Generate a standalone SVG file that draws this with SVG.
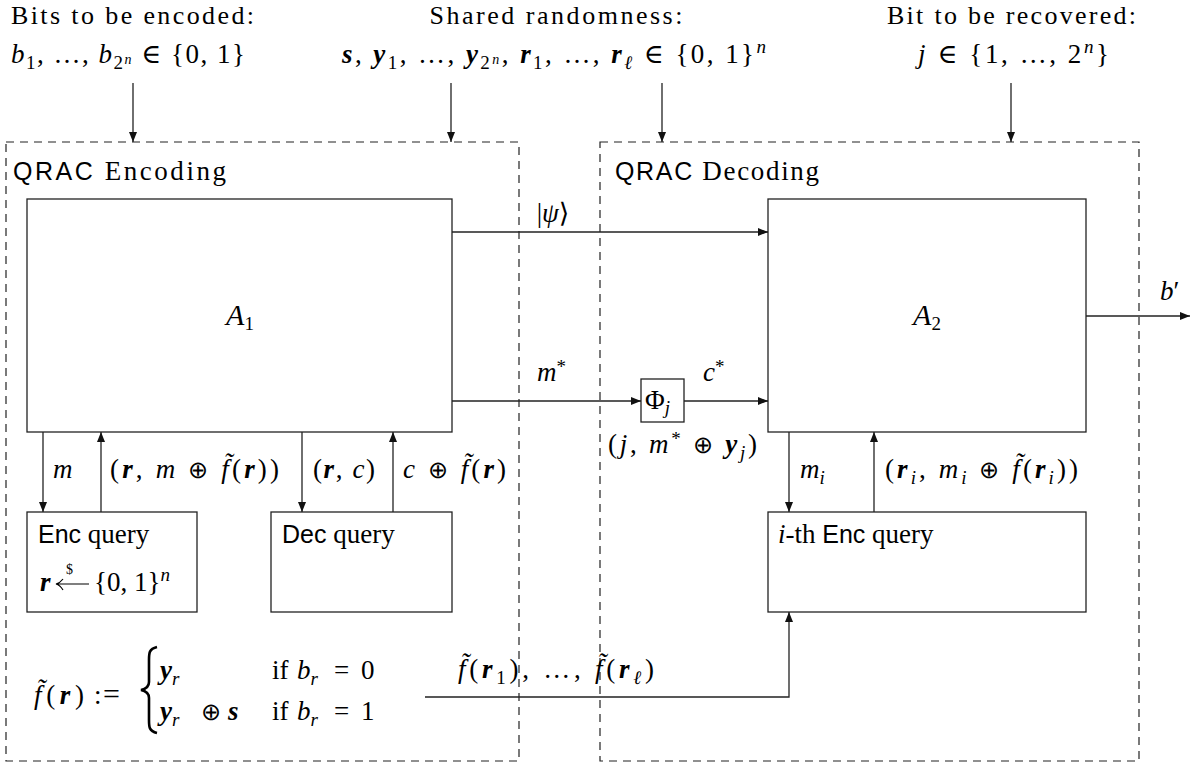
<svg xmlns="http://www.w3.org/2000/svg" width="1198" height="765" viewBox="0 0 1198 765">
<style>
text { font-family: "Liberation Serif", "DejaVu Serif", serif; font-size: 27px; fill: #000; }
.i { font-style: italic; }
.b { font-weight: bold; font-style: italic; }
.sf { font-family: "Liberation Sans", "DejaVu Sans", sans-serif; font-size: 25px; }
.s { font-size: 19px; }
.ss { font-size: 14px; }
.cal { font-size: 30px; font-style: italic; }
.top { font-size: 26px; }
.op { font-family: "DejaVu Sans", sans-serif; font-weight: 200; font-size: 24px; }
.box { fill: #fff; stroke: #222; stroke-width: 1.3; }
.frame { fill: none; stroke: #222; stroke-width: 1.2; stroke-dasharray: 8 6; }
.c { fill: none; stroke: #222; stroke-width: 1.3; marker-end: url(#ah); }
.cn { fill: none; stroke: #000; stroke-width: 1.2; }
</style>
<defs>
<marker id="ah" viewBox="0 0 10 8" refX="10" refY="4" markerWidth="10" markerHeight="8" markerUnits="userSpaceOnUse" orient="auto"><path d="M0,0 L10,4 L0,8 z" fill="#111"/></marker>
</defs>
<rect width="1198" height="765" fill="#fff"/>

<g id="input-bits">
<text class="top" x="11" y="24" textLength="243">Bits to be encoded:</text>
<text x="11" y="63" textLength="234"><tspan class="i">b</tspan><tspan class="s" dy="6">1</tspan><tspan dy="-6">, …, </tspan><tspan class="i">b</tspan><tspan class="s" dy="6">2</tspan><tspan class="ss i" dy="-5">n</tspan><tspan dy="-1"> ∈ {0, 1}</tspan></text>
</g>
<g id="input-randomness">
<text class="top" x="556" y="24" text-anchor="middle" textLength="253">Shared randomness:</text>
<text x="342" y="63" textLength="424"><tspan class="b">s</tspan>, <tspan class="b">y</tspan><tspan class="s" dy="6">1</tspan><tspan dy="-6">, …, </tspan><tspan class="b">y</tspan><tspan class="s" dy="6">2</tspan><tspan class="ss i" dy="-5">n</tspan><tspan dy="-1">, </tspan><tspan class="b">r</tspan><tspan class="s" dy="6">1</tspan><tspan dy="-6">, …, </tspan><tspan class="b">r</tspan><tspan class="s i" dy="6">ℓ</tspan><tspan dy="-6"> ∈ {0, 1}</tspan><tspan class="s i" dy="-10">n</tspan></text>
</g>
<g id="input-j">
<text class="top" x="887" y="24" textLength="249">Bit to be recovered:</text>
<text x="918" y="63" textLength="191"><tspan class="i">j</tspan> ∈ {1, …, 2<tspan class="s i" dy="-10">n</tspan><tspan dy="10">}</tspan></text>
</g>

<g id="encoding-frame">
<rect class="frame" x="6" y="142" width="513" height="619"/>
<text x="13" y="180" textLength="213"><tspan class="sf">QRAC</tspan> Encoding</text>
</g>
<g id="decoding-frame">
<rect class="frame" x="600" y="142" width="539" height="619"/>
<text x="615" y="180" textLength="204"><tspan class="sf">QRAC</tspan> Decoding</text>
</g>

<g id="A1">
<rect class="box" x="27" y="199" width="425" height="233"/>
<text x="240" y="325" text-anchor="middle"><tspan class="cal">A</tspan><tspan class="s" dy="5">1</tspan></text>
</g>
<g id="A2">
<rect class="box" x="768" y="199" width="318" height="233"/>
<text x="927" y="325" text-anchor="middle"><tspan class="cal">A</tspan><tspan class="s" dy="5">2</tspan></text>
</g>
<g id="Phi">
<rect class="box" x="641" y="379" width="43" height="43"/>
<text x="645" y="409">Φ<tspan class="s i" dy="5">j</tspan></text>
</g>
<g id="enc-query">
<rect class="box" x="27" y="512" width="170" height="100"/>
<text x="38" y="543"><tspan class="sf">Enc</tspan> query</text>
<text x="40" y="591"><tspan class="b">r</tspan></text>
<path class="cn" d="M89,584 L57,584 M63,579 Q60,583 56,584 Q60,585 63,590"/>
<text x="66" y="574" class="ss">$</text>
<text x="94" y="591">{0, 1}<tspan class="s i" dy="-10">n</tspan></text>
</g>
<g id="dec-query">
<rect class="box" x="271" y="512" width="181" height="100"/>
<text x="282" y="543"><tspan class="sf">Dec</tspan> query</text>
</g>
<g id="ith-enc-query">
<rect class="box" x="768" y="512" width="318" height="100"/>
<text x="778" y="543"><tspan class="i">i</tspan>-th <tspan class="sf">Enc</tspan> query</text>
</g>
<g id="f-definition">
<text x="34" y="704" font-size="30" textLength="50"><tspan class="i">f̃</tspan>(<tspan class="b">r</tspan>)</text>
<text x="94" y="704">:<tspan x="103" font-size="30">=</tspan></text>
<path d="M157,647 C149,649 149,653 149,660 L149,682 C149,687 146,689 141,690 C146,691 149,693 149,698 L149,720 C149,727 149,731 157,733" fill="none" stroke="#000" stroke-width="2.6"/>
<text x="160" y="679"><tspan class="b">y</tspan><tspan class="s i" dy="6">r</tspan></text>
<text x="272" y="679">if<tspan class="i" x="297">b</tspan><tspan class="s i" dy="6">r</tspan><tspan x="334" dy="-6">=</tspan><tspan x="361">0</tspan></text>
<text x="160" y="720"><tspan class="b">y</tspan><tspan class="s i" dy="6">r</tspan><tspan class="op" x="201" dy="-6">⊕</tspan><tspan class="b" x="228">s</tspan></text>
<text x="272" y="720">if<tspan class="i" x="297">b</tspan><tspan class="s i" dy="6">r</tspan><tspan x="334" dy="-6">=</tspan><tspan x="361">1</tspan></text>
</g>

<g id="connectors">
<line class="c" x1="133" y1="83" x2="133" y2="142"/>
<line class="c" x1="451" y1="83" x2="451" y2="142"/>
<line class="c" x1="662" y1="83" x2="662" y2="142"/>
<line class="c" x1="1011" y1="83" x2="1011" y2="142"/>
<line class="c" x1="452" y1="232" x2="768" y2="232"/>
<line class="c" x1="452" y1="401" x2="641" y2="401"/>
<line class="c" x1="684" y1="401" x2="768" y2="401"/>
<line class="c" x1="1086" y1="316" x2="1190" y2="316"/>
<line class="c" x1="43" y1="432" x2="43" y2="512"/>
<line class="c" x1="101" y1="512" x2="101" y2="432"/>
<line class="c" x1="302" y1="432" x2="302" y2="512"/>
<line class="c" x1="393" y1="512" x2="393" y2="432"/>
<line class="c" x1="789" y1="432" x2="789" y2="512"/>
<line class="c" x1="874" y1="512" x2="874" y2="432"/>
<polyline class="c" points="425,697 789,697 789,612"/>
<text x="553" y="222" text-anchor="middle">|<tspan class="i">ψ</tspan>⟩</text>
<text x="537" y="381"><tspan class="i">m</tspan><tspan class="s" dy="-8">*</tspan></text>
<text x="703" y="381"><tspan class="i">c</tspan><tspan class="s" dy="-8">*</tspan></text>
<text x="608" y="453" textLength="149">(<tspan class="i">j</tspan>, <tspan class="i">m</tspan><tspan class="s" dy="-8">*</tspan><tspan dy="8"> </tspan><tspan class="op">⊕</tspan> <tspan class="b">y</tspan><tspan class="s i" dy="6">j</tspan><tspan dy="-6">)</tspan></text>
<text x="1160" y="300"><tspan class="i">b</tspan>′</text>
<text x="53" y="478" class="i">m</text>
<text x="110" y="478" textLength="169">(<tspan class="b">r</tspan>, <tspan class="i">m</tspan> <tspan class="op">⊕</tspan> <tspan class="i">f̃</tspan>(<tspan class="b">r</tspan>))</text>
<text x="313" y="478" textLength="62">(<tspan class="b">r</tspan>, <tspan class="i">c</tspan>)</text>
<text x="403" y="478" textLength="103"><tspan class="i">c</tspan> <tspan class="op">⊕</tspan> <tspan class="i">f̃</tspan>(<tspan class="b">r</tspan>)</text>
<text x="800" y="478"><tspan class="i">m</tspan><tspan class="s i" dy="6">i</tspan></text>
<text x="885" y="478" textLength="193">(<tspan class="b">r</tspan><tspan class="s i" dy="6">i</tspan><tspan dy="-6">, </tspan><tspan class="i">m</tspan><tspan class="s i" dy="6">i</tspan><tspan dy="-6"> </tspan><tspan class="op">⊕</tspan> <tspan class="i">f̃</tspan>(<tspan class="b">r</tspan><tspan class="s i" dy="6">i</tspan><tspan dy="-6">))</tspan></text>
<text x="458" y="678" textLength="196"><tspan class="i">f̃</tspan>(<tspan class="b">r</tspan><tspan class="s" dy="6">1</tspan><tspan dy="-6">), …, </tspan><tspan class="i">f̃</tspan>(<tspan class="b">r</tspan><tspan class="s i" dy="6">ℓ</tspan><tspan dy="-6">)</tspan></text>
</g>
</svg>
